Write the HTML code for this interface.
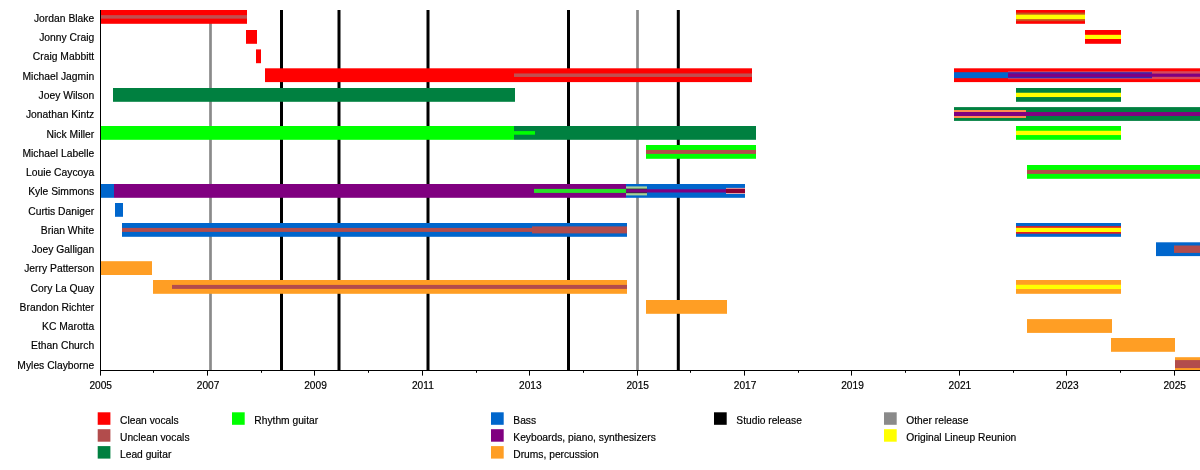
<!DOCTYPE html>
<html><head><meta charset="utf-8"><title>Timeline</title>
<style>
html,body{margin:0;padding:0;background:#fff}
svg{display:block}
text{font-family:"Liberation Sans",Arial,Helvetica,sans-serif;font-size:10.6px;fill:#000;stroke:#000;stroke-width:0.18px}
</style></head><body>
<svg width="1200" height="470" viewBox="0 0 1200 470">
<rect width="1200" height="470" fill="#fff"/>
<rect x="209.15" y="10" width="2.7" height="360.5" fill="#8a8a8a"/>
<rect x="280.00" y="10" width="3.0" height="360.5" fill="#000000"/>
<rect x="337.50" y="10" width="3.0" height="360.5" fill="#000000"/>
<rect x="426.50" y="10" width="3.0" height="360.5" fill="#000000"/>
<rect x="567.00" y="10" width="3.0" height="360.5" fill="#000000"/>
<rect x="636.15" y="10" width="2.7" height="360.5" fill="#8a8a8a"/>
<rect x="676.80" y="10" width="3.0" height="360.5" fill="#000000"/>
<rect x="100.00" y="10.00" width="147.00" height="13.80" fill="#ff0000"/>
<rect x="100.00" y="15.15" width="147.00" height="3.50" fill="#c05050"/>
<rect x="1016.00" y="10.00" width="69.00" height="13.80" fill="#ff0000"/>
<rect x="1016.00" y="12.60" width="69.00" height="8.60" fill="#c8501e"/>
<rect x="1016.00" y="14.65" width="69.00" height="4.50" fill="#ffff00"/>
<rect x="246.00" y="30.00" width="11.00" height="13.80" fill="#ff0000"/>
<rect x="1085.00" y="30.00" width="36.00" height="13.80" fill="#ff0000"/>
<rect x="1085.00" y="34.80" width="36.00" height="4.20" fill="#ffff00"/>
<rect x="256.00" y="49.40" width="5.00" height="13.80" fill="#ff0000"/>
<rect x="265.00" y="68.30" width="487.00" height="13.80" fill="#ff0000"/>
<rect x="514.00" y="73.45" width="238.00" height="3.50" fill="#c05050"/>
<rect x="954.00" y="68.30" width="246.00" height="13.80" fill="#ff0000"/>
<rect x="1008.00" y="71.20" width="192.00" height="8.00" fill="#d8485a"/>
<rect x="954.00" y="72.20" width="54.00" height="6.00" fill="#0066cc"/>
<rect x="1008.00" y="72.20" width="144.00" height="6.00" fill="#3a28b0"/>
<rect x="1008.00" y="73.60" width="192.00" height="3.20" fill="#800080"/>
<rect x="113.00" y="88.00" width="402.00" height="13.80" fill="#008040"/>
<rect x="1016.00" y="88.00" width="105.00" height="13.80" fill="#008040"/>
<rect x="1016.00" y="92.75" width="105.00" height="4.30" fill="#ffff00"/>
<rect x="954.00" y="107.10" width="246.00" height="13.80" fill="#008040"/>
<rect x="954.00" y="110.00" width="72.00" height="8.00" fill="#ff8c50"/>
<rect x="954.00" y="112.00" width="246.00" height="4.00" fill="#800080"/>
<rect x="100.00" y="126.00" width="414.00" height="13.80" fill="#00ff00"/>
<rect x="514.00" y="126.00" width="242.00" height="13.80" fill="#008040"/>
<rect x="514.00" y="131.10" width="21.00" height="3.60" fill="#00ff00"/>
<rect x="1016.00" y="126.00" width="105.00" height="13.80" fill="#00ff00"/>
<rect x="1016.00" y="130.75" width="105.00" height="4.30" fill="#ffff00"/>
<rect x="646.00" y="145.00" width="110.00" height="13.80" fill="#00ff00"/>
<rect x="646.00" y="149.90" width="110.00" height="4.00" fill="#b24c4c"/>
<rect x="1027.00" y="165.00" width="173.00" height="13.80" fill="#00ff00"/>
<rect x="1027.00" y="169.90" width="173.00" height="4.00" fill="#b24c4c"/>
<rect x="100.00" y="184.00" width="14.00" height="13.80" fill="#0066cc"/>
<rect x="114.00" y="184.00" width="512.00" height="13.80" fill="#800080"/>
<rect x="534.00" y="188.90" width="92.00" height="4.00" fill="#28e028"/>
<rect x="626.00" y="184.00" width="119.00" height="13.80" fill="#0066cc"/>
<rect x="626.00" y="186.40" width="21.00" height="9.00" fill="#a8d29a"/>
<rect x="626.00" y="188.60" width="21.00" height="4.60" fill="#1c3c2c"/>
<rect x="626.00" y="189.30" width="100.00" height="3.20" fill="#800080"/>
<rect x="726.00" y="187.90" width="19.00" height="6.00" fill="#eeb0b0"/>
<rect x="726.00" y="188.80" width="19.00" height="4.20" fill="#8c0032"/>
<rect x="115.00" y="203.00" width="8.00" height="13.80" fill="#0066cc"/>
<rect x="122.00" y="223.00" width="505.00" height="13.80" fill="#0066cc"/>
<rect x="122.00" y="227.90" width="410.00" height="4.00" fill="#b24c4c"/>
<rect x="532.00" y="226.40" width="95.00" height="7.00" fill="#b24c4c"/>
<rect x="1016.00" y="223.00" width="105.00" height="13.80" fill="#0066cc"/>
<rect x="1016.00" y="226.10" width="105.00" height="7.60" fill="#e02020"/>
<rect x="1016.00" y="227.80" width="105.00" height="4.20" fill="#ffff00"/>
<rect x="1156.00" y="242.30" width="44.00" height="13.80" fill="#0066cc"/>
<rect x="1174.00" y="245.50" width="26.00" height="7.40" fill="#b24c4c"/>
<rect x="100.00" y="261.20" width="52.00" height="13.80" fill="#ff9e24"/>
<rect x="153.00" y="280.00" width="474.00" height="13.80" fill="#ff9e24"/>
<rect x="172.00" y="284.90" width="455.00" height="4.00" fill="#b24c4c"/>
<rect x="1016.00" y="280.00" width="105.00" height="13.80" fill="#ff9e24"/>
<rect x="1016.00" y="284.75" width="105.00" height="4.30" fill="#ffff00"/>
<rect x="646.00" y="300.00" width="81.00" height="13.80" fill="#ff9e24"/>
<rect x="1027.00" y="319.10" width="85.00" height="13.80" fill="#ff9e24"/>
<rect x="1111.00" y="338.00" width="64.00" height="13.80" fill="#ff9e24"/>
<rect x="1175.00" y="357.20" width="25.00" height="13.20" fill="#ff9e24"/>
<rect x="1175.00" y="360.10" width="25.00" height="8.00" fill="#b24c4c"/>
<rect x="100" y="10" width="1" height="361" fill="#000"/>
<rect x="100" y="370" width="1100" height="1" fill="#000"/>
<rect x="100" y="370" width="1" height="5.6" fill="#000"/>
<text transform="translate(100.70,388.9) scale(0.96,1)" text-anchor="middle">2005</text>
<rect x="153" y="370" width="1" height="2.8" fill="#000"/>
<rect x="207" y="370" width="1" height="5.6" fill="#000"/>
<text transform="translate(208.10,388.9) scale(0.96,1)" text-anchor="middle">2007</text>
<rect x="261" y="370" width="1" height="2.8" fill="#000"/>
<rect x="314" y="370" width="1" height="5.6" fill="#000"/>
<text transform="translate(315.50,388.9) scale(0.96,1)" text-anchor="middle">2009</text>
<rect x="368" y="370" width="1" height="2.8" fill="#000"/>
<rect x="422" y="370" width="1" height="5.6" fill="#000"/>
<text transform="translate(422.90,388.9) scale(0.96,1)" text-anchor="middle">2011</text>
<rect x="476" y="370" width="1" height="2.8" fill="#000"/>
<rect x="529" y="370" width="1" height="5.6" fill="#000"/>
<text transform="translate(530.30,388.9) scale(0.96,1)" text-anchor="middle">2013</text>
<rect x="583" y="370" width="1" height="2.8" fill="#000"/>
<rect x="637" y="370" width="1" height="5.6" fill="#000"/>
<text transform="translate(637.70,388.9) scale(0.96,1)" text-anchor="middle">2015</text>
<rect x="690" y="370" width="1" height="2.8" fill="#000"/>
<rect x="744" y="370" width="1" height="5.6" fill="#000"/>
<text transform="translate(745.10,388.9) scale(0.96,1)" text-anchor="middle">2017</text>
<rect x="798" y="370" width="1" height="2.8" fill="#000"/>
<rect x="851" y="370" width="1" height="5.6" fill="#000"/>
<text transform="translate(852.50,388.9) scale(0.96,1)" text-anchor="middle">2019</text>
<rect x="905" y="370" width="1" height="2.8" fill="#000"/>
<rect x="959" y="370" width="1" height="5.6" fill="#000"/>
<text transform="translate(959.90,388.9) scale(0.96,1)" text-anchor="middle">2021</text>
<rect x="1013" y="370" width="1" height="2.8" fill="#000"/>
<rect x="1066" y="370" width="1" height="5.6" fill="#000"/>
<text transform="translate(1067.30,388.9) scale(0.96,1)" text-anchor="middle">2023</text>
<rect x="1120" y="370" width="1" height="2.8" fill="#000"/>
<rect x="1174" y="370" width="1" height="5.6" fill="#000"/>
<text transform="translate(1174.70,388.9) scale(0.96,1)" text-anchor="middle">2025</text>
<text transform="translate(94.2,21.90) scale(0.975,1)" text-anchor="end">Jordan Blake</text>
<text transform="translate(94.2,41.17) scale(0.975,1)" text-anchor="end">Jonny Craig</text>
<text transform="translate(94.2,60.44) scale(0.975,1)" text-anchor="end">Craig Mabbitt</text>
<text transform="translate(94.2,79.71) scale(0.975,1)" text-anchor="end">Michael Jagmin</text>
<text transform="translate(94.2,98.98) scale(0.975,1)" text-anchor="end">Joey Wilson</text>
<text transform="translate(94.2,118.25) scale(0.975,1)" text-anchor="end">Jonathan Kintz</text>
<text transform="translate(94.2,137.52) scale(0.975,1)" text-anchor="end">Nick Miller</text>
<text transform="translate(94.2,156.79) scale(0.975,1)" text-anchor="end">Michael Labelle</text>
<text transform="translate(94.2,176.06) scale(0.975,1)" text-anchor="end">Louie Caycoya</text>
<text transform="translate(94.2,195.33) scale(0.975,1)" text-anchor="end">Kyle Simmons</text>
<text transform="translate(94.2,214.60) scale(0.975,1)" text-anchor="end">Curtis Daniger</text>
<text transform="translate(94.2,233.87) scale(0.975,1)" text-anchor="end">Brian White</text>
<text transform="translate(94.2,253.14) scale(0.975,1)" text-anchor="end">Joey Galligan</text>
<text transform="translate(94.2,272.41) scale(0.975,1)" text-anchor="end">Jerry Patterson</text>
<text transform="translate(94.2,291.68) scale(0.975,1)" text-anchor="end">Cory La Quay</text>
<text transform="translate(94.2,310.95) scale(0.975,1)" text-anchor="end">Brandon Richter</text>
<text transform="translate(94.2,330.22) scale(0.975,1)" text-anchor="end">KC Marotta</text>
<text transform="translate(94.2,349.49) scale(0.975,1)" text-anchor="end">Ethan Church</text>
<text transform="translate(94.2,368.76) scale(0.975,1)" text-anchor="end">Myles Clayborne</text>
<rect x="97.70" y="412.30" width="12.7" height="12.5" fill="#ff0000"/>
<text transform="translate(120.00,423.90) scale(0.968,1)">Clean vocals</text>
<rect x="97.70" y="429.20" width="12.7" height="12.5" fill="#b24c4c"/>
<text transform="translate(120.00,440.80) scale(0.968,1)">Unclean vocals</text>
<rect x="97.70" y="446.10" width="12.7" height="12.5" fill="#008040"/>
<text transform="translate(120.00,457.70) scale(0.968,1)">Lead guitar</text>
<rect x="232.00" y="412.30" width="12.7" height="12.5" fill="#00ff00"/>
<text transform="translate(254.30,423.90) scale(0.968,1)">Rhythm guitar</text>
<rect x="491.00" y="412.30" width="12.7" height="12.5" fill="#0066cc"/>
<text transform="translate(513.30,423.90) scale(0.968,1)">Bass</text>
<rect x="491.00" y="429.20" width="12.7" height="12.5" fill="#800080"/>
<text transform="translate(513.30,440.80) scale(0.968,1)">Keyboards, piano, synthesizers</text>
<rect x="491.00" y="446.10" width="12.7" height="12.5" fill="#ff9e24"/>
<text transform="translate(513.30,457.70) scale(0.968,1)">Drums, percussion</text>
<rect x="714.00" y="412.30" width="12.7" height="12.5" fill="#000000"/>
<text transform="translate(736.30,423.90) scale(0.968,1)">Studio release</text>
<rect x="884.00" y="412.30" width="12.7" height="12.5" fill="#8a8a8a"/>
<text transform="translate(906.30,423.90) scale(0.968,1)">Other release</text>
<rect x="884.00" y="429.20" width="12.7" height="12.5" fill="#ffff00"/>
<text transform="translate(906.30,440.80) scale(0.968,1)">Original Lineup Reunion</text>
</svg>
</body></html>
